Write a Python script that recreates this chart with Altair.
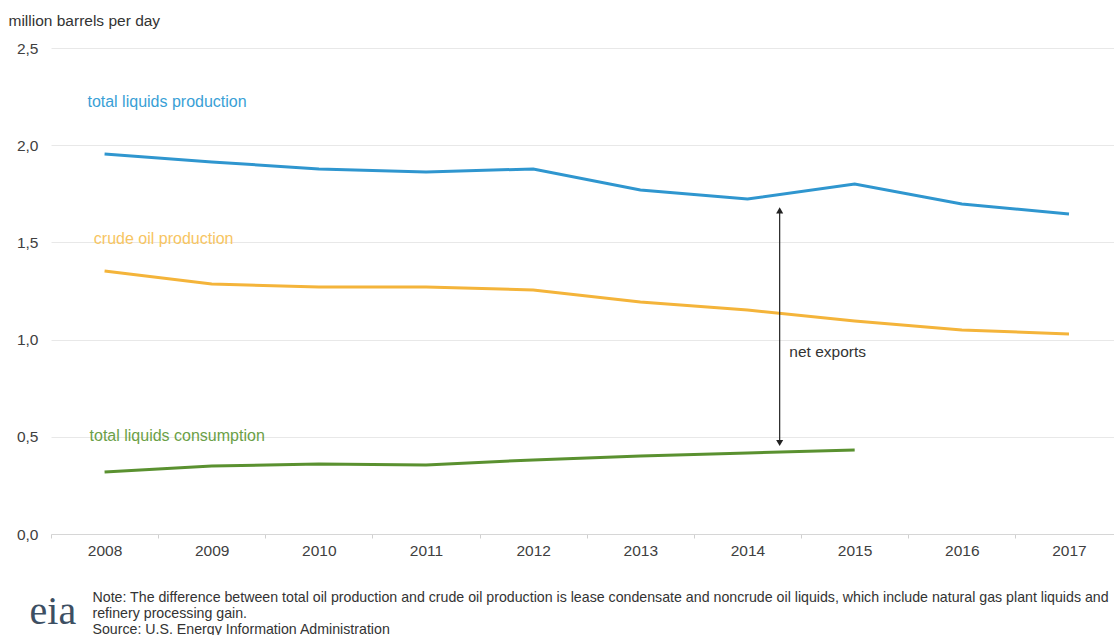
import altair as alt
import pandas as pd

years = [2008, 2009, 2010, 2011, 2012, 2013, 2014, 2015, 2016, 2017]
total_production = [1.955, 1.914, 1.878, 1.862, 1.878, 1.770, 1.723, 1.800, 1.698, 1.646]
crude_production = [1.353, 1.286, 1.271, 1.271, 1.255, 1.193, 1.152, 1.096, 1.049, 1.029]
cons_years = [2008, 2009, 2010, 2011, 2012, 2013, 2014, 2015]
total_consumption = [0.319, 0.350, 0.360, 0.355, 0.381, 0.401, 0.417, 0.432]

series_names = ["total liquids production", "crude oil production", "total liquids consumption"]
line_colors = ["#2f96cf", "#f4b43a", "#5a9130"]
label_colors = ["#3a9fd6", "#f7c562", "#6b9f47"]
label_x = [2007.84, 2007.90, 2007.86]
label_y = [2.22, 1.52, 0.505]

arrow_year = [2014.3]
arrow_top = [1.66]
arrow_bottom = [0.47]
arrow_tip_top = [1.665]
arrow_tip_bottom = [0.468]
arrow_label = ["net exports"]
arrow_label_x = [2014.39]
arrow_label_y = [0.936]

y_ticks = [0.0, 0.5, 1.0, 1.5, 2.0, 2.5]
x_tick_bounds = [2007.5 + i for i in range(10)]

note_lines = [
    "Note: The difference between total oil production and crude oil production is lease condensate and noncrude oil liquids, which include natural gas plant liquids and",
    "refinery processing gain.",
    "Source: U.S. Energy Information Administration",
]
logo_text = ["eia"]
logo_x = [2007.30]
logo_y = [-0.40]

rows = []
for n, vals, yrs in [
    (series_names[0], total_production, years),
    (series_names[1], crude_production, years),
    (series_names[2], total_consumption, cons_years),
]:
    for yr, v in zip(yrs, vals):
        rows.append({"year": yr, "value": v, "series": n})
df = pd.DataFrame(rows)

labels_df = pd.DataFrame({"series": series_names, "x": label_x, "y": label_y, "color": label_colors})
arrow_df = pd.DataFrame({"x": arrow_year, "top": arrow_top, "bottom": arrow_bottom})
tip_df = pd.DataFrame({"x": arrow_year * 2, "y": arrow_tip_top + arrow_tip_bottom,
                       "shape": ["triangle-up", "triangle-down"]})
alabel_df = pd.DataFrame({"x": arrow_label_x, "y": arrow_label_y, "t": arrow_label})
logo_df = pd.DataFrame({"x": logo_x, "y": logo_y, "t": logo_text})

xscale = alt.Scale(domain=[2007.5, 2017.42], nice=False, zero=False)
yscale = alt.Scale(domain=[0, 2.5], nice=False)

FONT = "Liberation Sans"

x_axis = alt.Axis(
    values=x_tick_bounds,
    labelExpr="format(datum.value + 0.5, 'd')",
    labelOffset=53.5,
    labelFlush=False,
    labelBound=False,
    labelOverlap=False,
    labelFontSize=15.5,
    labelColor="#404040",
    labelFont=FONT,
    labelPadding=5,
    tickSize=4,
    tickColor="#d0d0d0",
    domainColor="#d6d6d6",
    grid=False,
    title=note_lines,
    titleFontSize=14.2,
    titleFont=FONT,
    titleFontWeight="normal",
    titleColor="#333333",
    titleAnchor="start",
    titleAlign="left",
    titleBaseline="top",
    titleX=41,
    titleY=56,
    titleLineHeight=16,
)
y_axis = alt.Axis(
    values=y_ticks,
    labelExpr="replace(format(datum.value, '.1f'), '.', ',')",
    labelFontSize=15.5,
    labelColor="#404040",
    labelFont=FONT,
    labelPadding=13,
    ticks=False,
    domain=False,
    gridColor="#e8e8e8",
    title="million barrels per day",
    titleAngle=0,
    titleAlign="left",
    titleBaseline="middle",
    titleX=-43,
    titleY=-28,
    titleFontSize=15.5,
    titleFont=FONT,
    titleFontWeight="normal",
    titleColor="#333333",
)

lines = alt.Chart(df).mark_line(strokeWidth=3, clip=False).encode(
    x=alt.X("year:Q", scale=xscale, axis=x_axis),
    y=alt.Y("value:Q", scale=yscale, axis=y_axis),
    color=alt.Color("series:N", scale=alt.Scale(domain=series_names, range=line_colors), legend=None),
)

labels = alt.Chart(labels_df).mark_text(align="left", baseline="middle", fontSize=16, font=FONT).encode(
    x=alt.X("x:Q", scale=xscale),
    y=alt.Y("y:Q", scale=yscale),
    text="series:N",
    color=alt.Color("color:N", scale=None),
)

arrow = alt.Chart(arrow_df).mark_rule(color="#222222", strokeWidth=1.2).encode(
    x=alt.X("x:Q", scale=xscale),
    y=alt.Y("top:Q", scale=yscale),
    y2="bottom:Q",
)

tips = alt.Chart(tip_df).mark_point(filled=True, size=50, color="#222222", opacity=1).encode(
    x=alt.X("x:Q", scale=xscale),
    y=alt.Y("y:Q", scale=yscale),
    shape=alt.Shape("shape:N", scale=None),
)

alabel = alt.Chart(alabel_df).mark_text(align="left", baseline="middle", fontSize=15.5, font=FONT, color="#333333").encode(
    x=alt.X("x:Q", scale=xscale),
    y=alt.Y("y:Q", scale=yscale),
    text="t:N",
)

logo = alt.Chart(logo_df).mark_text(align="left", baseline="middle", fontSize=40, font="Liberation Serif", color="#3d4f63", clip=False).encode(
    x=alt.X("x:Q", scale=xscale),
    y=alt.Y("y:Q", scale=yscale),
    text="t:N",
)

chart = alt.layer(lines, labels, arrow, tips, alabel, logo).properties(
    width=1063,
    height=486,
    autosize=alt.AutoSizeParams(type="none"),
    padding={"left": 51, "top": 48, "right": 0, "bottom": 101},
    background="white",
).configure_view(stroke=None)

chart.save("out.html", embed_options={"renderer": "svg", "actions": False})
